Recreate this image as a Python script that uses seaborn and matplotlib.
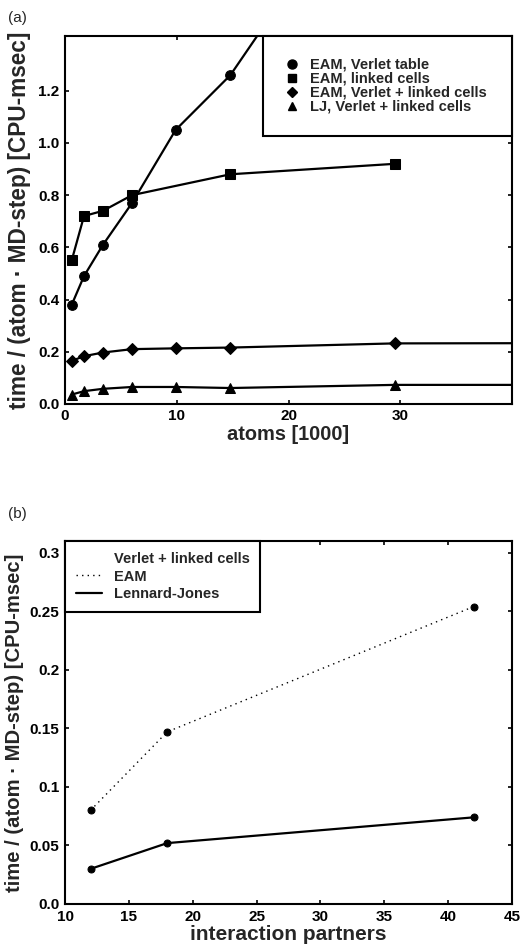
import matplotlib
matplotlib.use("Agg")
import matplotlib.pyplot as plt
from matplotlib.lines import Line2D
import seaborn as sns
import pandas as pd

# panel (a): time per atom and MD step vs. number of atoms (in 1000)
atoms = [0.6, 1.7, 3.4, 6.0, 9.9, 14.8, 29.5]
atoms_cells = [0.6, 1.7, 3.4, 6.0, 14.8, 29.5]
atoms_long = [0.6, 1.7, 3.4, 6.0, 9.9, 14.8, 29.5, 60.0]
eam_verlet = [0.38, 0.49, 0.61, 0.77, 1.05, 1.26, 2.18]
eam_cells = [0.55, 0.72, 0.74, 0.80, 0.88, 0.92]
eam_both = [0.165, 0.183, 0.197, 0.21, 0.213, 0.216, 0.232, 0.234]
lj_both = [0.036, 0.049, 0.058, 0.065, 0.065, 0.061, 0.073, 0.073]

# panel (b): time vs. interaction partners
partners = [12, 18, 42]
eam_b = [0.080, 0.147, 0.254]
lj_b = [0.030, 0.052, 0.074]

labels_a = ["EAM, Verlet table", "EAM, linked cells",
            "EAM, Verlet + linked cells", "LJ, Verlet + linked cells"]
ylabel = "time / (atom \u00b7 MD-step) [CPU-msec]"

sns.set_style("ticks")
plt.rcParams['font.family'] = ['Liberation Sans', 'DejaVu Sans']
plt.rcParams['font.weight'] = 'bold'
plt.rcParams['axes.labelweight'] = 'bold'
plt.rcParams['xtick.direction'] = 'in'
plt.rcParams['ytick.direction'] = 'in'

fig = plt.figure(figsize=(5.29, 9.46), dpi=100)
ax1 = fig.add_axes([0.1229, 0.573, 0.845, 0.389])
ax2 = fig.add_axes([0.1229, 0.0444, 0.845, 0.3837])

lw = 1.6
series = [
    (atoms, eam_verlet, "o", 7),
    (atoms_cells, eam_cells, "s", 6.5),
    (atoms_long, eam_both, "D", 6),
    (atoms_long, lj_both, "^", 6.5),
]
for xs, ys, mk, ms in series:
    df = pd.DataFrame({"x": xs, "y": ys})
    sns.lineplot(data=df, x="x", y="y", ax=ax1, color="black", lw=lw,
                 marker=mk, markersize=ms, markeredgecolor="black",
                 sort=False, estimator=None)

ax1.set_xlim(0, 40)
ax1.set_ylim(0, 1.41)
ax1.set_xticks([0, 10, 20, 30])
ax1.set_yticks([0.0, 0.2, 0.4, 0.6, 0.8, 1.0, 1.2])
ax1.set_yticklabels(["0.0", "0.2", "0.4", "0.6", "0.8", "1.0", "1.2"])
ax1.set_xlabel("atoms [1000]", fontsize=14.4, labelpad=1)
ax1.set_ylabel(ylabel, fontsize=16.3, labelpad=5)

handles_a = [Line2D([], [], color="black", linestyle="none", marker=m, markersize=s)
             for m, s in [("o", 6.5), ("s", 6), ("D", 5.5), ("^", 6)]]
leg = ax1.legend(handles_a, labels_a, loc="upper right",
                 bbox_to_anchor=(0.443, 0.0, 0.557, 1.0), mode="expand",
                 fontsize=10.5, frameon=True, fancybox=False, framealpha=1,
                 edgecolor="black", borderaxespad=0, borderpad=1.5,
                 labelspacing=0.0, handlelength=1.0, handletextpad=0.7)
leg.get_frame().set_linewidth(1.5)

df_b = pd.DataFrame({"x": partners + partners,
                     "y": eam_b + lj_b,
                     "model": ["EAM"] * 3 + ["Lennard-Jones"] * 3})
sns.lineplot(data=df_b[df_b.model == "EAM"], x="x", y="y", ax=ax2, color="black",
             lw=1.0, linestyle=(0, (1, 3)), marker="o", markersize=5,
             markeredgecolor="black", estimator=None)
sns.lineplot(data=df_b[df_b.model == "Lennard-Jones"], x="x", y="y", ax=ax2,
             color="black", lw=lw, marker="o", markersize=5,
             markeredgecolor="black", estimator=None)

ax2.set_xlim(10, 45)
ax2.set_ylim(0, 0.31)
ax2.set_xticks([10, 15, 20, 25, 30, 35, 40, 45])
ax2.set_yticks([0.0, 0.05, 0.1, 0.15, 0.2, 0.25, 0.3])
ax2.set_yticklabels(["0.0", "0.05", "0.1", "0.15", "0.2", "0.25", "0.3"])
ax2.set_xlabel("interaction partners", fontsize=15, labelpad=1)
ax2.set_ylabel(ylabel, fontsize=14.6, labelpad=4)

handles_b = [Line2D([], [], linestyle="none"),
             Line2D([], [], color="black", lw=1.0, linestyle=(0, (1, 3))),
             Line2D([], [], color="black", lw=lw)]
labels_b = ["Verlet + linked cells", "EAM", "Lennard-Jones"]
leg2 = ax2.legend(handles_b, labels_b, loc="upper left",
                  bbox_to_anchor=(0.0, 0.0, 0.436, 1.0), mode="expand",
                  fontsize=10.5, frameon=True, fancybox=False, framealpha=1,
                  edgecolor="black", borderaxespad=0, borderpad=0.75,
                  labelspacing=0.25, handlelength=1.8, handletextpad=0.8)
leg2.get_frame().set_linewidth(1.5)

for ax in (ax1, ax2):
    for sp in ax.spines.values():
        sp.set_visible(True)
        sp.set_linewidth(1.5)
        sp.set_color("black")
    ax.tick_params(axis="both", which="major", length=3, width=1.2,
                   labelsize=11, top=True, right=True, pad=4, colors="black")

fig.text(0.015, 0.981, "(a)", fontsize=11, fontweight="normal", va="center")
fig.text(0.015, 0.457, "(b)", fontsize=11, fontweight="normal", va="center")

fig.savefig("out.png", dpi=100)
